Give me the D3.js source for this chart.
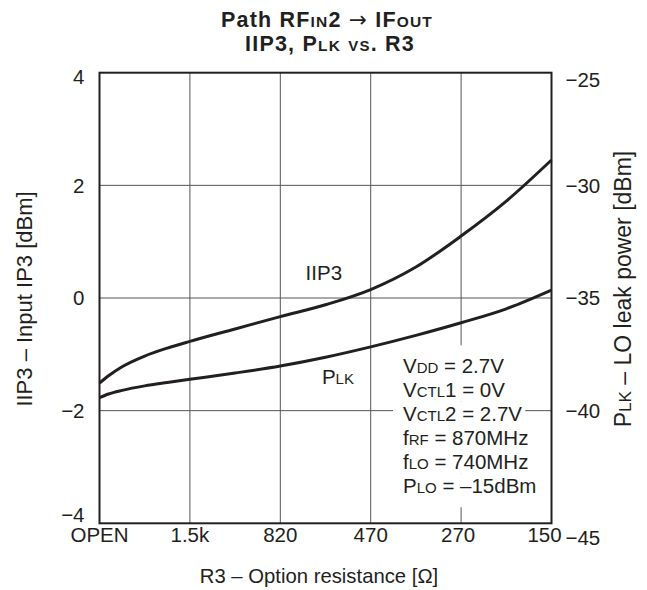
<!DOCTYPE html>
<html><head><meta charset="utf-8">
<script src="https://cdn.jsdelivr.net/npm/d3@7"></script>
<style>
body{margin:0;background:#fff;}
svg{display:block;font-family:"Liberation Sans",Arial,Helvetica,sans-serif;}
</style></head>
<body><svg id="c" width="647" height="590"></svg>
<script>
// ---- data ----
const categories = ["OPEN","1.5k","820","470","270","150"];
const leftTicks = [-4,-2,0,2,4];
const rightTicks = [-45,-40,-35,-30,-25];
// positions along the R3 axis, in category-index units
const iip3Pos    = [0,0.1,0.25,0.5,0.75,1,1.5,2,2.5,3,3.5,4,4.5,5];
const iip3Values = [-1.51,-1.38,-1.22,-1.03,-0.89,-0.77,-0.55,-0.33,-0.12,0.15,0.55,1.10,1.72,2.45];
const plkPos     = [0,0.1,0.25,0.5,0.75,1,1.5,2,2.5,3,3.5,4,4.5,5];
const plkValues  = [-39.42,-39.26,-39.10,-38.90,-38.75,-38.61,-38.33,-38.02,-37.63,-37.17,-36.66,-36.10,-35.48,-34.65];

// ---- layout ----
const svg = d3.select("#c");
const L = 99.5, R = 551.5, T = 72.7, B = 523.3;
const x = d3.scaleLinear().domain([0, categories.length-1]).range([L, R]);
const yL = d3.scaleLinear().domain([-4,4]).range([B, T]);
const yR = d3.scaleLinear().domain([-45,-25]).range([B, T]);
const ink = "#231f20";
const fmt = v => v < 0 ? "\u2212" + Math.abs(v) : String(v);

// grid
const g = svg.append("g");
g.selectAll("line.vx").data(d3.range(1, categories.length-1)).join("line")
  .attr("x1", d=>x(d)).attr("x2", d=>x(d)).attr("y1", T).attr("y2", B)
  .attr("stroke", "#555").attr("stroke-width", 1);
g.selectAll("line.hy").data(leftTicks.slice(1,-1)).join("line")
  .attr("x1", L).attr("x2", R).attr("y1", d=>yL(d)).attr("y2", d=>yL(d))
  .attr("stroke", "#555").attr("stroke-width", 1);

// annotation block (white backing interrupts grid)
const notes = [
  [["V",""],["DD","s"],[" = 2.7V",""]],
  [["V",""],["CTL","s"],["1 = 0V",""]],
  [["V",""],["CTL","s"],["2 = 2.7V",""]],
  [["f",""],["RF","s"],[" = 870MHz",""]],
  [["f",""],["LO","s"],[" = 740MHz",""]],
  [["P",""],["LO","s"],[" = \u201315dBm",""]]
];
const noteG = svg.append("g");
const bgG = noteG.append("g");
const txG = noteG.append("g");
const nx = 403, ny0 = 373.3, nstep = 24;
notes.forEach((ln, i) => {
  const t = txG.append("text").attr("x", nx).attr("y", ny0 + i*nstep)
    .attr("font-size", 20.5).attr("fill", ink);
  ln.forEach(([s, k]) => {
    const ts = t.append("tspan").text(s);
    if (k === "s") ts.attr("font-size", 15);
  });
  const bb = t.node().getBBox();
  let top = ny0 + i*nstep - 20, bot = ny0 + i*nstep + 4;
  if (i === 0) top -= 8;
  if (i === notes.length-1) bot += 10;
  bgG.append("rect").attr("x", bb.x - 10).attr("width", bb.width + 13)
    .attr("y", top).attr("height", bot - top).attr("fill", "#fff");
});

// frame
svg.append("rect").attr("x", L).attr("y", T).attr("width", R-L).attr("height", B-T)
  .attr("fill", "none").attr("stroke", ink).attr("stroke-width", 2);

// curves
const line = (pos, ys) => d3.line().x((d,i)=>x(pos[i])).y(d=>ys(d)).curve(d3.curveMonotoneX);
svg.append("path").datum(iip3Values).attr("d", line(iip3Pos, yL))
  .attr("fill","none").attr("stroke", ink).attr("stroke-width", 3);
svg.append("path").datum(plkValues).attr("d", line(plkPos, yR))
  .attr("fill","none").attr("stroke", ink).attr("stroke-width", 3);

// curve labels
svg.append("text").attr("x", x(2.28)).attr("y", yL(0.32)).attr("font-size", 20.5)
  .attr("fill", ink).text("IIP3");
const pl = svg.append("text").attr("x", x(2.46)).attr("y", yR(-38.8)).attr("font-size", 20.5).attr("fill", ink);
pl.append("tspan").text("P");
pl.append("tspan").attr("font-size", 15).text("LK");

// x tick labels
svg.selectAll("text.xt").data(categories).join("text")
  .attr("x", (d,i)=>x(i) + (i===categories.length-1 ? -7 : (i===categories.length-2 ? -3 : 0)))
  .attr("y", 542).attr("text-anchor","middle").attr("font-size", 20.5).attr("fill", ink)
  .text(d=>d);

// left tick labels
const lOff = {"4":4, "-4":-9};
svg.selectAll("text.yl").data(leftTicks).join("text")
  .attr("x", L - 15).attr("y", d=>yL(d) + (lOff[d]||0)).attr("dy", "0.36em")
  .attr("text-anchor","end").attr("font-size", 20.5).attr("fill", ink).text(fmt);

// right tick labels
const rOff = {"-25":7, "-45":14};
svg.selectAll("text.yr").data(rightTicks).join("text")
  .attr("x", R + 14).attr("y", d=>yR(d) + (rOff[d]||0)).attr("dy", "0.36em")
  .attr("text-anchor","start").attr("font-size", 20.5).attr("fill", ink).text(fmt);

// axis titles
svg.append("text").attr("x", 319).attr("y", 583).attr("text-anchor","middle")
  .attr("font-size", 20.3).attr("fill", ink).text("R3 \u2013 Option resistance [\u03A9]");
svg.append("text").attr("transform", `translate(32,299) rotate(-90)`)
  .attr("text-anchor","middle").attr("font-size", 22).attr("fill", ink)
  .text("IIP3 \u2013 Input IP3 [dBm]");
const rt = svg.append("text").attr("transform", `translate(631,289) rotate(-90)`)
  .attr("text-anchor","middle").attr("font-size", 23).attr("fill", ink);
rt.append("tspan").text("P");
rt.append("tspan").attr("font-size", 17).text("LK");
rt.append("tspan").text(" \u2013 LO leak power [dBm]");

// title
const t1 = svg.append("text").attr("x", 327).attr("y", 27).attr("text-anchor","middle")
  .attr("font-size", 21.5).attr("font-weight","bold").attr("letter-spacing", 1.2).attr("fill", ink);
t1.append("tspan").text("Path RF");
t1.append("tspan").attr("font-size", 15.5).text("IN");
t1.append("tspan").text("2 ");
t1.append("tspan").attr("font-family", '"DejaVu Sans", sans-serif').attr("font-weight","normal").text("\u2192");
t1.append("tspan").text(" IF");
t1.append("tspan").attr("font-size", 15.5).text("OUT");
const t2 = svg.append("text").attr("x", 330).attr("y", 51).attr("text-anchor","middle")
  .attr("font-size", 21.5).attr("font-weight","bold").attr("letter-spacing", 1.2).attr("fill", ink);
t2.append("tspan").text("IIP3, P");
t2.append("tspan").attr("font-size", 15.5).text("LK");
t2.append("tspan").text(" ");
t2.append("tspan").style("font-variant", "small-caps").text("vs.");
t2.append("tspan").text(" R3");
</script></body></html>
